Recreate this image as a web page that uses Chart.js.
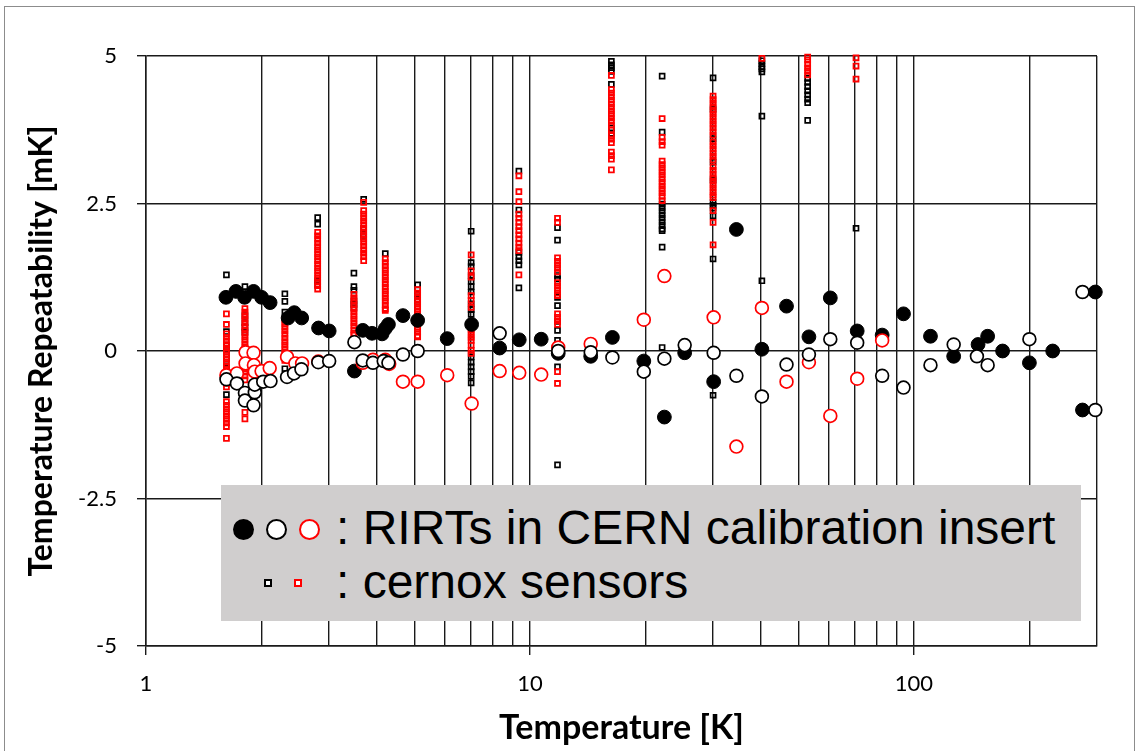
<!DOCTYPE html>
<html><head><meta charset="utf-8">
<script src="https://cdn.jsdelivr.net/npm/chart.js@4/dist/chart.umd.min.js"></script>
<style>
html,body{margin:0;padding:0;background:#fff;}
#wrap{position:relative;width:1142px;height:751px;overflow:hidden;background:#fff;}
#frame{position:absolute;left:4px;top:6px;width:1131px;height:780px;border:1px solid #8c8c8c;box-sizing:border-box;pointer-events:none;}
#c{position:absolute;left:0;top:0;}
#legend{position:absolute;left:221px;top:485px;width:860px;height:136px;background:#d0cece;font-family:"Liberation Sans",Arial,sans-serif;font-size:48px;color:#000;}
.row{position:absolute;left:115px;white-space:nowrap;line-height:54px;}
.sym{position:absolute;box-sizing:border-box;}
</style>
</head><body>
<div id="wrap">
<canvas id="c" width="1142" height="751"></canvas>
<div id="legend">
  <div class="sym" style="left:12px;top:34px;width:21px;height:21px;border-radius:50%;background:#000;"></div>
  <div class="sym" style="left:45px;top:34px;width:21px;height:21px;border-radius:50%;background:#fff;border:2px solid #000;"></div>
  <div class="sym" style="left:78px;top:34px;width:21px;height:21px;border-radius:50%;background:#fff;border:2px solid #ff0000;"></div>
  <div class="row" style="top:16px;">: RIRTs in CERN calibration insert</div>
  <div class="sym" style="left:43px;top:94px;width:8px;height:8px;background:#fff;border:2px solid #000;"></div>
  <div class="sym" style="left:73px;top:94px;width:8px;height:8px;background:#fff;border:2px solid #ff0000;"></div>
  <div class="row" style="top:70px;">: cernox sensors</div>
</div>
<div id="frame"></div>
</div>
<script>
// ---- axis ticks ----
const xTickValues = [1,2,3,4,5,6,7,8,9,10,20,30,40,50,60,70,80,90,100,200,300];
const xTickLabels = ['1','10','100'];
const yTickValues = [-5,-2.5,0,2.5,5];

// ---- cernox sensors: one column per temperature ----
const cernoxTemps = [1.62,1.81,2.30,2.80,3.48,3.69,4.20,5.10,7.03,9.36,11.8,16.3,22.1,30.0,40.2,52.9,70.7];
const cernoxBlack = [
  [1.29,0.33,0.10,0.02,-0.06,-0.14,-0.28,-0.74],
  [1.09,0.60,0.48,0.40,0.32],
  [0.97,0.84,0.66,-0.30],
  [2.26,2.15,1.19,1.12],
  [1.32,1.09,1.03,0.85,0.79,0.73],
  [2.57,2.08,1.98,1.94],
  [1.65],
  [1.12,0.97,0.92,0.86],
  [2.03,1.50,1.43,1.28,1.18,1.09,1.00,0.80,0.70,0.62,-0.10,-0.19,-0.27,-0.35,-0.43,-0.54],
  [3.05,2.39,1.67,1.60,1.53,1.46,1.07],
  [2.09,1.88,1.28,1.22,0.91,0.77,0.50,0.35,0.18,-0.27,-1.93],
  [4.91,4.85,4.80,4.74,4.52,3.78,3.69],
  [4.66,3.71,2.49,2.43,2.37,2.31,2.25,2.19,2.13,2.07,2.04,1.76,0.06],
  [4.63,4.10,3.60,3.20,2.90,2.52,2.47,2.42,2.29,1.56,-0.75],
  [4.92,4.87,4.82,4.78,4.73,3.98,1.19],
  [4.62,4.55,4.48,4.41,4.34,4.27,4.21,3.91],
  [2.08]
];
const cernoxRed = [
  [0.63,0.45,0.29,0.23,0.17,0.11,0.05,-0.01,-0.07,-0.13,-0.19,-0.25,-0.31,-0.37,-0.43,-0.49,-0.55,-0.61,-0.86,-0.92,-0.98,-1.04,-1.10,-1.16,-1.22,-1.28,-1.48],
  [0.72,0.66,0.60,0.54,0.48,0.42,0.36,0.30,0.24,0.18,0.12,0.06,0.00,-0.06,-0.12,-0.18,-0.24,-0.30,-0.36,-0.42,-0.49,-1.04,-1.15],
  [0.52,0.46,0.40,0.34,0.28,0.22,0.16,0.10,0.04,-0.02,-0.08,-0.16],
  [2.01,1.95,1.89,1.83,1.77,1.71,1.65,1.59,1.53,1.47,1.41,1.35,1.29,1.23,1.17,1.11,1.05],
  [0.96,0.90,0.84,0.78,0.72,0.66,0.60,0.54,0.48,0.42,0.36,0.30,0.27],
  [2.52,2.38,2.32,2.26,2.20,2.14,2.08,2.02,1.96,1.90,1.84,1.78,1.72,1.66,1.60,1.53],
  [1.56,1.50,1.44,1.38,1.32,1.26,1.20,1.14,1.08,1.02,0.96,0.90,0.84,0.78,0.72,0.69],
  [1.04,0.98,0.92,0.86,0.80,0.74,0.68,0.62,0.56,0.50,0.44,0.38,0.32,0.26,0.24],
  [1.63,1.36,1.25,0.94,0.86,0.74,0.41,0.35,0.29,0.23,0.18,0.10,0.01,-0.04],
  [2.97,2.70,2.53,2.32,2.25,2.18,2.11,2.04,1.97,1.90,1.83,1.76,1.70,1.29],
  [2.25,2.18,1.58,1.52,1.46,1.40,1.34,1.16,1.10,1.04,0.98,0.94,0.63,0.57,0.51,0.45,-0.35,-0.55],
  [4.67,4.43,4.37,4.31,4.25,4.19,4.13,4.07,4.01,3.95,3.89,3.83,3.75,3.65,3.59,3.53,3.37,3.31,3.25,3.07],
  [3.94,3.62,3.55,3.49,3.22,3.16,3.10,3.04,2.98,2.92,2.86,2.80,2.74,2.68,2.62,2.55],
  [4.32,4.26,4.20,4.14,4.08,4.02,3.96,3.90,3.84,3.78,3.72,3.66,3.54,3.48,3.42,3.36,3.30,3.24,3.12,3.06,3.00,2.94,2.88,2.82,2.76,2.70,2.64,2.60,2.38,2.18,1.80],
  [4.96],
  [4.98,4.93,4.86,4.80,4.74,4.68],
  [4.97,4.83,4.61]
];

// ---- RIRTs in CERN calibration insert ----
const rirtFilledT = [1.615,1.715,1.806,1.906,2.0,2.105,2.345,2.433,2.544,2.815,3.0,3.49,3.67,3.88,4.12,4.2,4.28,4.67,5.1,6.09,7.05,8.34,9.38,10.7,11.85,14.4,16.4,19.8,22.4,25.3,30.1,34.5,40.2,46.6,53.3,60.6,71.2,82.7,94,110.5,127,147,155.7,170.3,200,230,275,297];
const rirtFilledV = [0.91,1.01,0.91,1.01,0.91,0.82,0.56,0.65,0.56,0.39,0.34,-0.34,0.35,0.30,0.29,0.38,0.45,0.60,0.52,0.21,0.45,0.05,0.19,0.20,-0.04,-0.09,0.23,-0.17,-1.12,-0.03,-0.52,2.06,0.03,0.76,0.24,0.90,0.34,0.27,0.63,0.25,-0.09,0.11,0.25,0.0,-0.20,0.0,-1.0,1.0];
const rirtOpenT = [1.62,1.725,1.81,1.81,1.906,1.92,1.92,2.02,2.11,2.33,2.43,2.54,2.81,3.0,3.49,3.67,3.9,4.16,4.28,4.67,5.1,8.34,11.85,14.4,16.4,19.8,22.4,25.3,30.1,34.5,40.2,46.6,53.3,60.6,71.2,82.7,94,110.5,127,146,155.7,200,275,297];
const rirtOpenV = [-0.48,-0.55,-0.71,-0.84,-0.92,-0.70,-0.57,-0.52,-0.51,-0.44,-0.38,-0.31,-0.19,-0.17,0.15,-0.16,-0.20,-0.17,-0.20,-0.06,0.0,0.30,0.0,-0.02,-0.11,-0.35,-0.13,0.10,-0.03,-0.42,-0.77,-0.23,-0.06,0.20,0.14,-0.42,-0.62,-0.24,0.11,-0.09,-0.24,0.20,1.0,-1.0];
const rirtRedT = [1.817,1.906,1.817,1.91,1.62,1.725,1.92,2.0,2.1,2.33,2.45,2.55,2.81,3.67,3.9,4.2,4.3,4.67,5.1,6.09,7.05,8.34,9.38,10.7,11.85,14.4,19.8,22.4,30.1,34.5,40.2,46.6,53.3,60.6,71.2,82.7];
const rirtRedV = [-0.02,-0.03,-0.21,-0.24,-0.41,-0.38,-0.35,-0.34,-0.29,-0.10,-0.21,-0.21,-0.18,-0.20,-0.15,-0.15,-0.22,-0.52,-0.52,-0.41,-0.89,-0.34,-0.37,-0.40,0.06,0.12,0.53,1.27,0.57,-1.62,0.73,-0.52,-0.19,-1.10,-0.47,0.18];

const pairs = (T, V) => T.map((t, i) => ({x: t, y: V[i]}));
const columns = (temps, cols) => temps.flatMap((t, i) => cols[i].map(v => ({x: t, y: v})));

const GRID = '#1a1a1a';
const FAMILY = 'Lato, "Open Sans", sans-serif';
const tickFont = {family: FAMILY, size: 22};
const majorX = [1, 10, 100];

new Chart(document.getElementById('c'), {
  type: 'scatter',
  data: {
    datasets: [
      {label: 'RIRT open', data: pairs(rirtOpenT, rirtOpenV), pointStyle: 'circle', pointRadius: 6.4, borderWidth: 1.7, borderColor: '#000', backgroundColor: '#fff', order: 1},
      {label: 'RIRT red', data: pairs(rirtRedT, rirtRedV), pointStyle: 'circle', pointRadius: 6.4, borderWidth: 1.7, borderColor: '#ff0000', backgroundColor: '#fff', order: 2},
      {label: 'RIRT filled', data: pairs(rirtFilledT, rirtFilledV), pointStyle: 'circle', pointRadius: 6.9, borderWidth: 1, borderColor: '#000', backgroundColor: '#000', order: 3},
      {label: 'cernox red', data: columns(cernoxTemps, cernoxRed), pointStyle: 'rect', pointRadius: 3.5, borderWidth: 1.8, borderColor: '#ff0000', backgroundColor: 'rgba(0,0,0,0)', order: 4},
      {label: 'cernox black', data: columns(cernoxTemps, cernoxBlack), pointStyle: 'rect', pointRadius: 3.5, borderWidth: 1.7, borderColor: '#000', backgroundColor: 'rgba(0,0,0,0)', order: 5}
    ]
  },
  options: {
    responsive: false,
    animation: false,
    events: [],
    layout: {padding: {left: 0, right: 45, top: 56, bottom: 0}},
    datasets: {scatter: {clip: false, pointHoverRadius: 0}},
    plugins: {legend: {display: false}, tooltip: {enabled: false}},
    scales: {
      x: {
        type: 'logarithmic', min: 1, max: 300, position: 'bottom',
        afterBuildTicks: s => { s.ticks = xTickValues.map(v => ({value: v})); },
        afterFit: s => { s.height = 105; },
        ticks: {autoSkip: false, maxRotation: 0, padding: 16, color: '#000', font: tickFont,
          callback: v => xTickLabels.includes(String(v)) ? String(v) : ''},
        grid: {color: GRID, lineWidth: 1.4, drawTicks: true, tickLength: 9,
          tickColor: c => (c.tick && majorX.includes(c.tick.value)) ? GRID : 'rgba(0,0,0,0)'},
        border: {color: GRID, width: 1.5},
        title: {display: true, text: 'Temperature [K]', color: '#000', font: {family: FAMILY, size: 34, weight: 'bold'}, padding: {top: 0, bottom: 3}}
      },
      y: {
        min: -5, max: 5,
        afterBuildTicks: s => { s.ticks = yTickValues.map(v => ({value: v})); },
        afterFit: s => { s.width = 146; },
        ticks: {padding: 20, color: '#000', font: tickFont, callback: v => String(v)},
        grid: {color: GRID, lineWidth: 1.4, drawTicks: true, tickLength: 9, tickColor: GRID},
        border: {color: GRID, width: 1.5},
        title: {display: true, text: 'Temperature Repeatability [mK]', color: '#000', font: {family: FAMILY, size: 32, weight: 'bold'}, padding: {top: 22, bottom: 0}}
      }
    }
  }
});
</script>
</body></html>
